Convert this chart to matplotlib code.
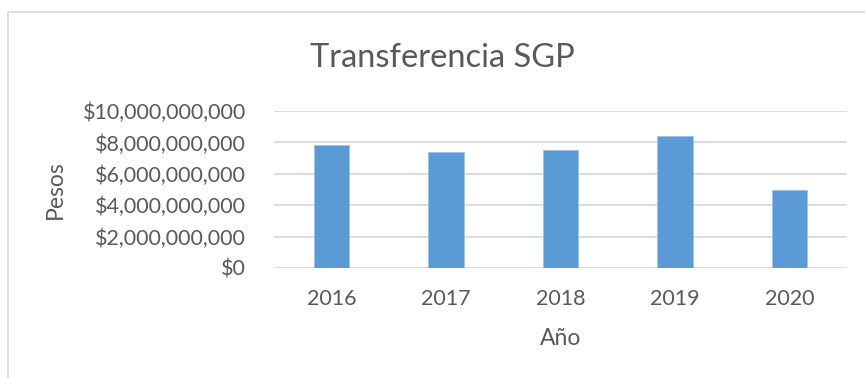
import matplotlib
matplotlib.use("Agg")
import matplotlib.pyplot as plt
from matplotlib.patches import Rectangle
from matplotlib.ticker import FuncFormatter

# Transferencias del SGP por año (pesos)
years = ["2016", "2017", "2018", "2019", "2020"]
pesos = [7.83e9, 7.36e9, 7.49e9, 8.42e9, 4.96e9]

plt.rcParams["font.family"] = ["Lato", "DejaVu Sans"]
text_gray = "#595959"

fig = plt.figure(figsize=(8.65, 3.78), dpi=100)
ax = fig.add_axes([274 / 865, 1 - 268 / 378, 573 / 865, 157 / 378])

# chart frame
fig.patches.append(Rectangle((8 / 865, -0.1), 1.0, 1 - 12 / 378 + 0.1,
                             transform=fig.transFigure, fill=False,
                             edgecolor="#d9d9d9", linewidth=1.2))

ax.bar(range(len(years)), pesos, width=0.31, color="#5b9bd5",
       edgecolor="#9dc3e6", linewidth=0.6, zorder=3)

ax.set_xlim(-0.5, len(years) - 0.5)
ax.set_ylim(0, 1e10)
ax.set_yticks([0, 2e9, 4e9, 6e9, 8e9, 1e10])
ax.yaxis.set_major_formatter(FuncFormatter(lambda v, p: f"${v:,.0f}"))
ax.set_xticks(range(len(years)))
ax.set_xticklabels(years)
ax.grid(axis="y", color="#d9d9d9", linewidth=1.3, zorder=0)
for s in ax.spines.values():
    s.set_visible(False)
ax.tick_params(length=0, labelsize=15.5, colors=text_gray)
ax.tick_params(axis="y", pad=20)
ax.tick_params(axis="x", pad=15)

ax.set_ylabel("Pesos", fontsize=16.5, color=text_gray, labelpad=12)
ax.set_xlabel("Año", fontsize=16.5, color=text_gray, labelpad=14)
fig.text(442 / 865, 1 - 58 / 378, "Transferencia SGP", fontsize=23.5,
         color=text_gray, ha="center", va="center")

fig.savefig("out.png", dpi=100)
